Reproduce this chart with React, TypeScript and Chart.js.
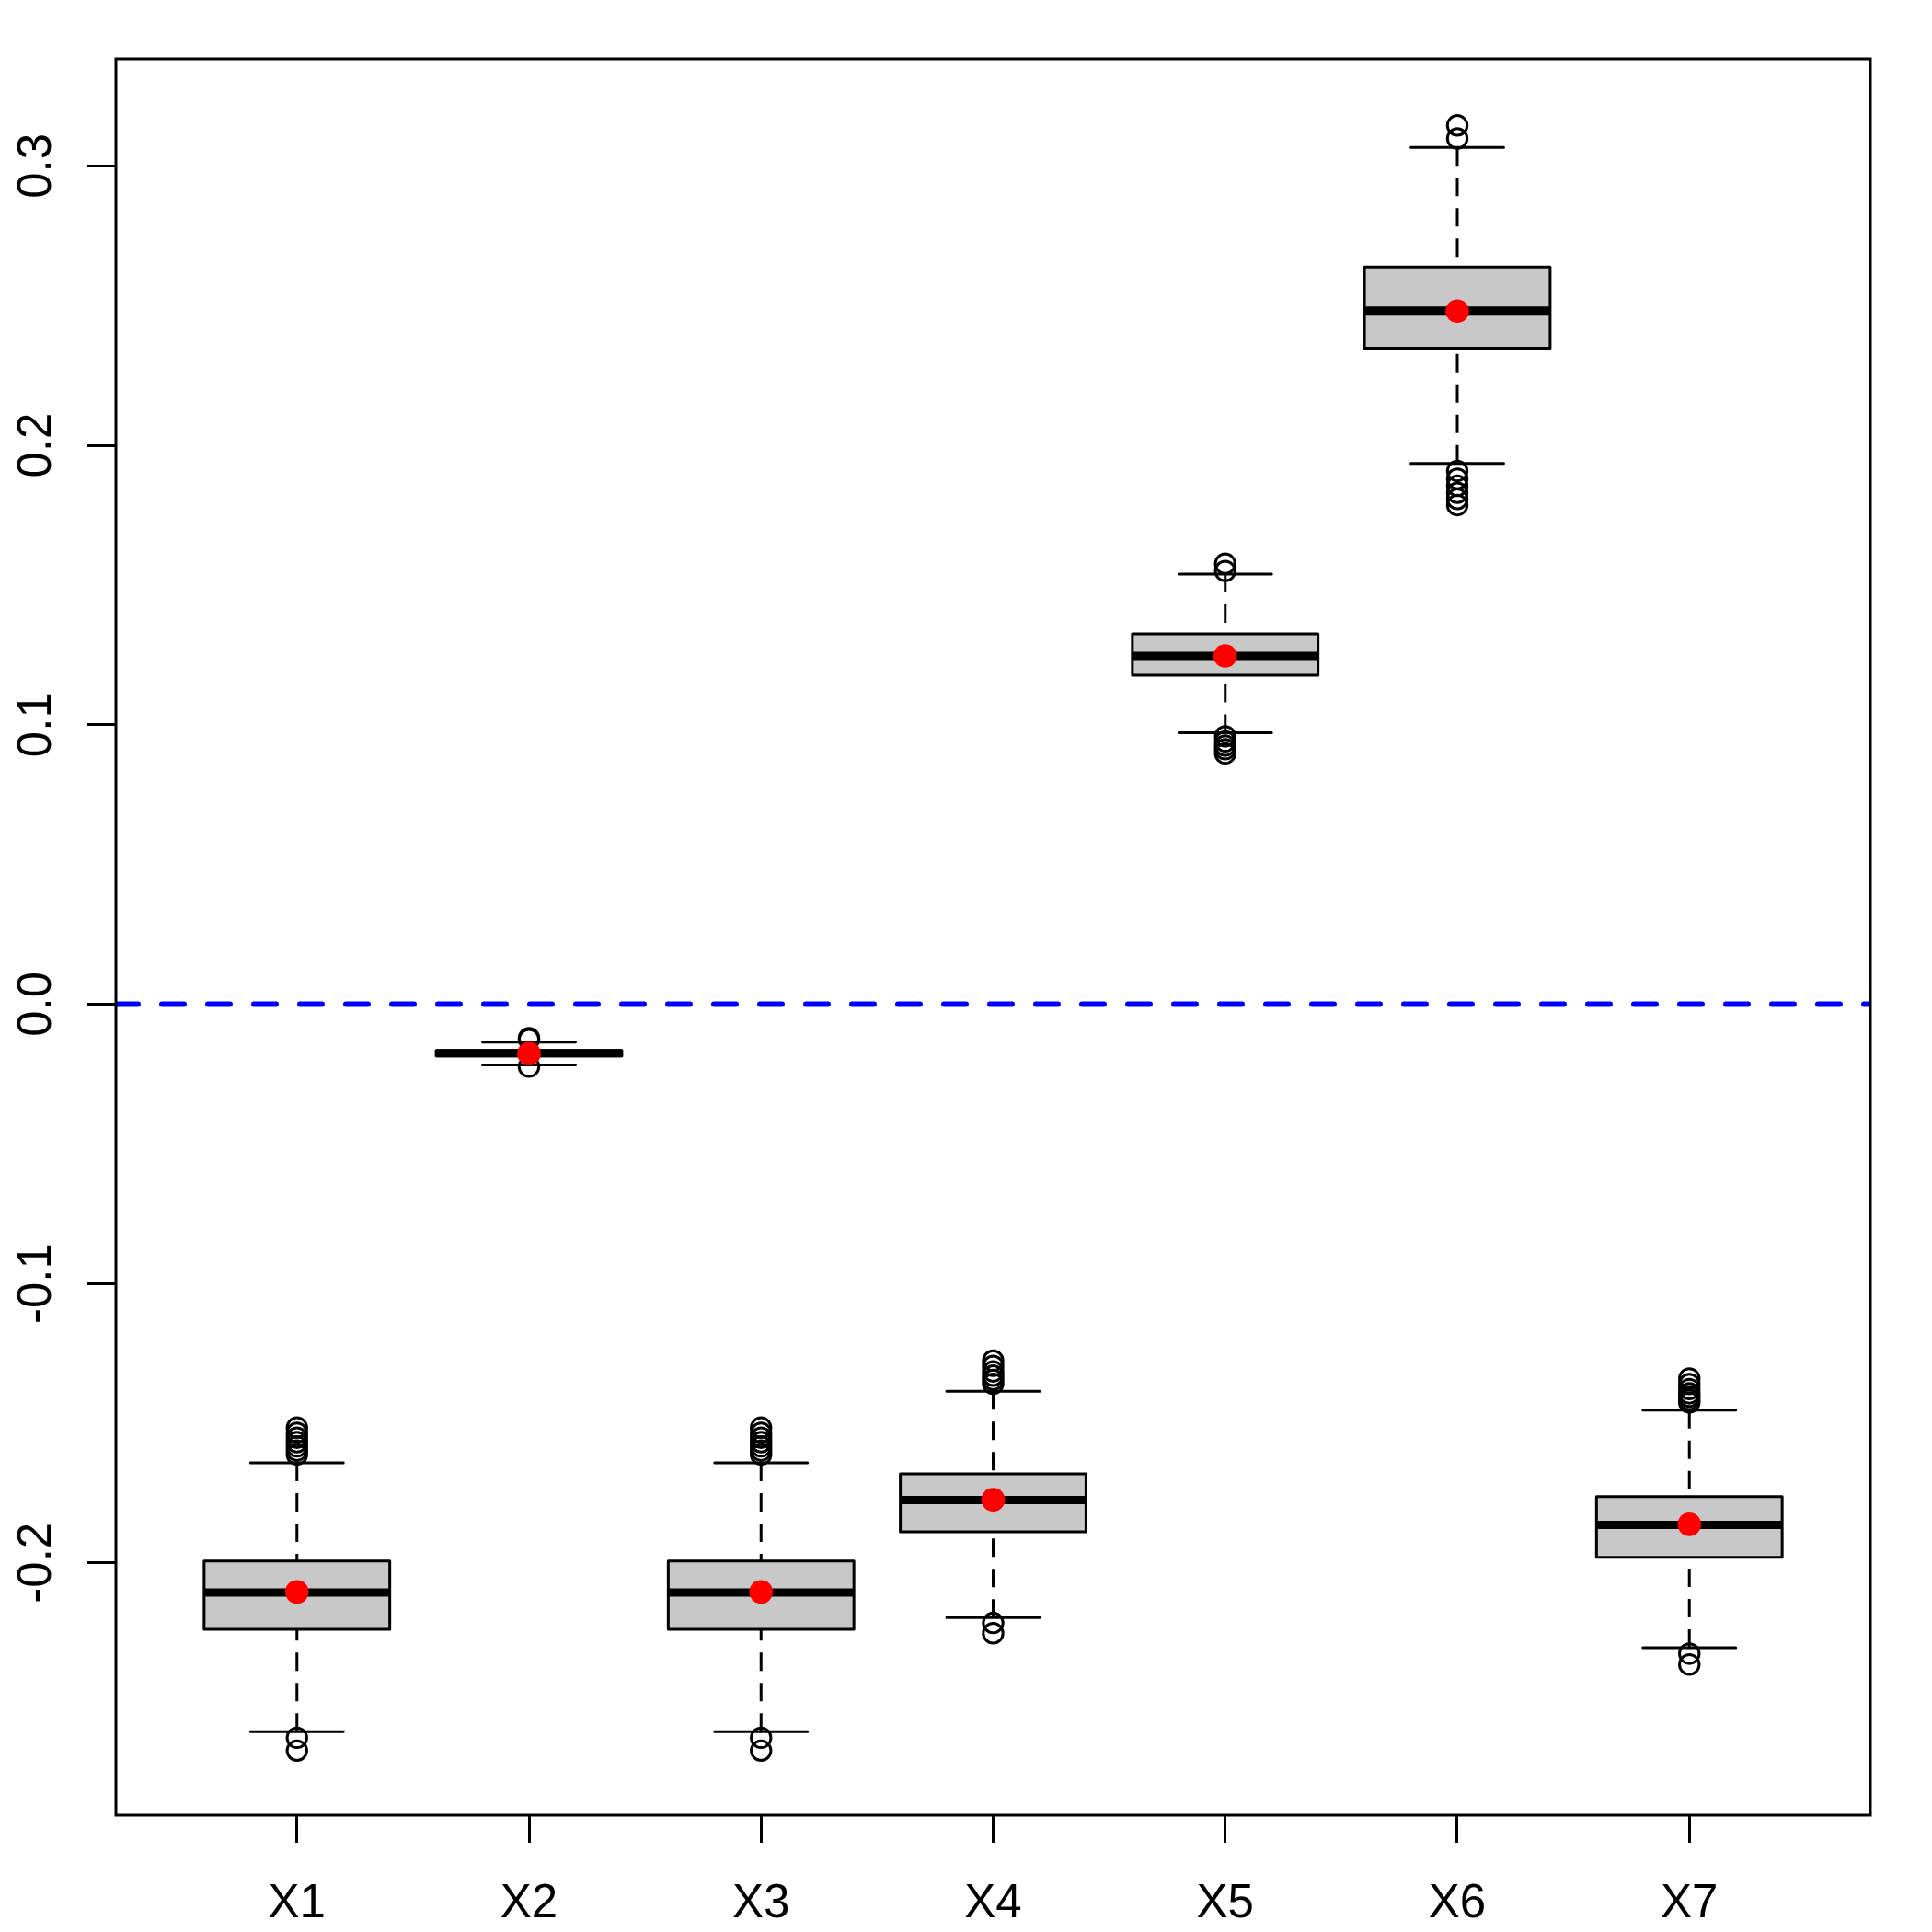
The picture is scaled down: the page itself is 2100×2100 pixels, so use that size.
import React, { useEffect, useRef } from "react";
import { Chart, registerables } from "chart.js";

Chart.register(...registerables);

// ---------- data ----------
const categories = ["X1", "X2", "X3", "X4", "X5", "X6", "X7"];
const lowerWhisker = [-0.2604, -0.0218, -0.2604, -0.2196, 0.0971, 0.1935, -0.2304];
const lowerHinge = [-0.2238, -0.0186, -0.2238, -0.1889, 0.1177, 0.2347, -0.198];
const medians = [-0.2106, -0.0176, -0.2106, -0.1775, 0.1246, 0.2482, -0.1864];
const upperHinge = [-0.1993, -0.0166, -0.1993, -0.1681, 0.1325, 0.2638, -0.1763];
const upperWhisker = [-0.1642, -0.0136, -0.1642, -0.1386, 0.1539, 0.3066, -0.1453];
const means = [-0.2104, -0.0177, -0.2104, -0.1774, 0.1246, 0.248, -0.1862];
const outliers: number[][] = [
  [-0.1516, -0.1535, -0.1552, -0.1568, -0.1583, -0.1598, -0.1612, -0.2626, -0.2672],
  [-0.0122, -0.0126, -0.0224],
  [-0.1516, -0.1535, -0.1552, -0.1568, -0.1583, -0.1598, -0.1612, -0.2626, -0.2672],
  [-0.1276, -0.1295, -0.1315, -0.133, -0.1345, -0.1359, -0.2215, -0.2252],
  [0.1576, 0.155, 0.0958, 0.094, 0.0925, 0.0912, 0.0897],
  [0.3145, 0.3098, 0.1908, 0.188, 0.1855, 0.183, 0.1808, 0.1786],
  [-0.134, -0.136, -0.1378, -0.1393, -0.1405, -0.1416, -0.1426, -0.2325, -0.2364],
];
const yTicks = [-0.2, -0.1, 0.0, 0.1, 0.2, 0.3];
const xRange = [0.22, 7.78];
const yRange = [-0.2903, 0.3383];
const referenceLine = 0;

const FONT = "'Liberation Sans', Arial, Helvetica, sans-serif";

const boxPlugin = {
  id: "boxes",
  beforeDatasetsDraw(chart: any) {
    const ctx = chart.ctx;
    const xs = chart.scales.x;
    const ys = chart.scales.y;
    ctx.save();
    ctx.beginPath();
    ctx.rect(chart.chartArea.left, chart.chartArea.top, chart.chartArea.right - chart.chartArea.left, chart.chartArea.bottom - chart.chartArea.top);
    ctx.clip();
    categories.forEach((_, i) => {
      const pos = i + 1;
      const xc = xs.getPixelForValue(pos);
      const bl = xs.getPixelForValue(pos - 0.4);
      const br = xs.getPixelForValue(pos + 0.4);
      const sl = xs.getPixelForValue(pos - 0.2);
      const sr = xs.getPixelForValue(pos + 0.2);
      const yLo = ys.getPixelForValue(lowerWhisker[i]);
      const yQ1 = ys.getPixelForValue(lowerHinge[i]);
      const yMed = ys.getPixelForValue(medians[i]);
      const yQ3 = ys.getPixelForValue(upperHinge[i]);
      const yHi = ys.getPixelForValue(upperWhisker[i]);

      // box
      ctx.setLineDash([]);
      ctx.fillStyle = "#c8c8c8";
      ctx.fillRect(bl, yQ3, br - bl, yQ1 - yQ3);
      ctx.lineWidth = 3;
      ctx.strokeStyle = "#000";
      ctx.lineJoin = "round";
      ctx.strokeRect(bl, yQ3, br - bl, yQ1 - yQ3);

      // whiskers (dashed)
      ctx.lineCap = "butt";
      ctx.setLineDash([20, 13]);
      ctx.beginPath();
      ctx.moveTo(xc, yLo);
      ctx.lineTo(xc, yQ1);
      ctx.moveTo(xc, yHi);
      ctx.lineTo(xc, yQ3);
      ctx.stroke();

      // staples
      ctx.setLineDash([]);
      ctx.lineCap = "round";
      ctx.beginPath();
      ctx.moveTo(sl, yLo);
      ctx.lineTo(sr, yLo);
      ctx.moveTo(sl, yHi);
      ctx.lineTo(sr, yHi);
      ctx.stroke();

      // median
      ctx.lineCap = "butt";
      ctx.lineWidth = 9;
      ctx.beginPath();
      ctx.moveTo(bl, yMed);
      ctx.lineTo(br, yMed);
      ctx.stroke();
    });
    ctx.restore();
  },
  afterDraw(chart: any) {
    const { left, top, right, bottom } = chart.chartArea;
    const ctx = chart.ctx;
    ctx.save();
    ctx.setLineDash([]);
    ctx.lineWidth = 3;
    ctx.strokeStyle = "#000";
    ctx.lineJoin = "miter";
    ctx.strokeRect(left, top, right - left, bottom - top);
    ctx.restore();
  },
};

export default function App() {
  const ref = useRef<HTMLCanvasElement | null>(null);

  useEffect(() => {
    document.body.style.margin = "0";
    const canvas = ref.current;
    if (!canvas) return;

    const outlierPoints: { x: number; y: number }[] = [];
    outliers.forEach((arr, i) => arr.forEach((v) => outlierPoints.push({ x: i + 1, y: v })));
    const meanPoints = means.map((v, i) => ({ x: i + 1, y: v }));

    const chart = new Chart(canvas, {
      type: "scatter",
      data: {
        datasets: [
          {
            type: "scatter",
            data: outlierPoints,
            pointRadius: 10.7,
            pointBorderWidth: 3,
            pointBorderColor: "#000",
            pointBackgroundColor: "rgba(0,0,0,0)",
            borderColor: "#000",
            backgroundColor: "rgba(0,0,0,0)",
            order: 3,
          } as any,
          {
            type: "line",
            data: [
              { x: xRange[0], y: referenceLine },
              { x: xRange[1], y: referenceLine },
            ],
            borderColor: "#0000ff",
            borderWidth: 6,
            borderDash: [24, 26],
            borderCapStyle: "round",
            pointRadius: 0,
            fill: false,
            order: 2,
          } as any,
          {
            type: "scatter",
            data: meanPoints,
            pointRadius: 12.8,
            pointBorderWidth: 0,
            pointBackgroundColor: "#ff0000",
            backgroundColor: "#ff0000",
            borderColor: "#ff0000",
            order: 1,
          } as any,
        ],
      },
      options: {
        responsive: false,
        animation: false,
        devicePixelRatio: 1,
        events: [],
        layout: { padding: { left: 0, top: 64, right: 67, bottom: 0 } },
        plugins: { legend: { display: false }, tooltip: { enabled: false } },
        scales: {
          x: {
            type: "linear",
            position: "bottom",
            min: xRange[0],
            max: xRange[1],
            afterBuildTicks: (scale: any) => {
              scale.ticks = categories.map((_, i) => ({ value: i + 1 }));
            },
            afterFit: (scale: any) => {
              scale.height = 127;
            },
            ticks: {
              callback: (v: any) => categories[Math.round(Number(v)) - 1] ?? "",
              font: { family: FONT, size: 51 },
              color: "#000",
              padding: 36,
              maxRotation: 0,
              minRotation: 0,
              autoSkip: false,
            },
            grid: {
              display: true,
              drawOnChartArea: false,
              drawTicks: true,
              tickLength: 30,
              color: "#000",
              lineWidth: 3,
            },
            border: { display: false },
          },
          y: {
            type: "linear",
            position: "left",
            min: yRange[0],
            max: yRange[1],
            afterBuildTicks: (scale: any) => {
              scale.ticks = yTicks.map((v) => ({ value: v }));
            },
            afterFit: (scale: any) => {
              scale.width = 126;
            },
            ticks: {
              callback: (v: any) => Number(v).toFixed(1),
              font: { family: FONT, size: 51 },
              color: "#000",
              padding: 10,
              minRotation: 90,
              maxRotation: 90,
              crossAlign: "center",
              autoSkip: false,
            },
            grid: {
              display: true,
              drawOnChartArea: false,
              drawTicks: true,
              tickLength: 31,
              color: "#000",
              lineWidth: 3,
            },
            border: { display: false },
          },
        },
      } as any,
      plugins: [boxPlugin],
    });

    return () => chart.destroy();
  }, []);

  return (
    <div style={{ width: 2100, height: 2100, background: "#fff" }}>
      <canvas ref={ref} width={2100} height={2100} style={{ display: "block", width: 2100, height: 2100 }} />
    </div>
  );
}
